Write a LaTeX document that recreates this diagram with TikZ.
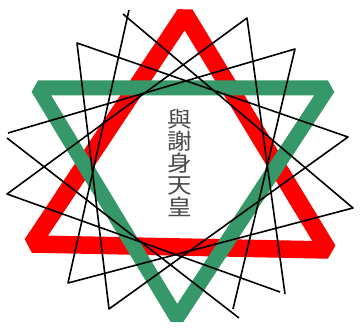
\documentclass[tikz,border=0pt]{standalone}
\usepackage{fontspec}
\newfontfamily\jpfont{Noto Sans CJK JP}
\usetikzlibrary{positioning}
\definecolor{starred}{RGB}{255,0,0}
\definecolor{stargreen}{RGB}{54,152,105}
\tikzset{
    band/.style={line width=#1, line join=bevel},
    thin line/.style={black, line width=1.6pt, line join=round}
}

\begin{document}
\begin{tikzpicture}[x=1pt,y=-1pt]
    \useasboundingbox (0,0) rectangle (360,332);
    % the two big triangles
    \draw[starred, band=17.5pt] (32,244)--(185,14)--(328,250)--cycle;
    \draw[stargreen, band=15pt] (38,88)--(328,88)--(177,318)--cycle;
    % corners of the thin triangles
    \coordinate (a) at (129,10);
    \coordinate (b) at (123,14);
    \coordinate (c) at (77,43);
    \coordinate (d) at (8,133);
    \coordinate (e) at (7,138);
    \coordinate (f) at (7,194);
    \coordinate (g) at (68,283);
    \coordinate (h) at (109,309);
    \coordinate (i) at (233,309);
    \coordinate (j) at (239,318);
    \coordinate (k) at (280,292);
    \coordinate (l) at (285,294);
    \coordinate (m) at (353,208);
    \coordinate (n) at (348,137);
    \coordinate (o) at (295,49);
    \coordinate (p) at (247,18);
    \draw[thin line] (b)--(m)--(g)--(a);
    \draw[thin line] (c)--(n)--(h)--cycle;
    \draw[thin line] (d)--(o)--(i);
    \draw[thin line] (e)--(j);
    \draw[thin line] (k)--(f)--(p)--(l);
    \node[font=\jpfont\fontsize{22}{22}\selectfont, text=black!70, align=center,
        xscale=1.12, transform shape]
        (name) at (180,163) {與\\謝\\身\\天\\皇};
\end{tikzpicture}
\end{document}
